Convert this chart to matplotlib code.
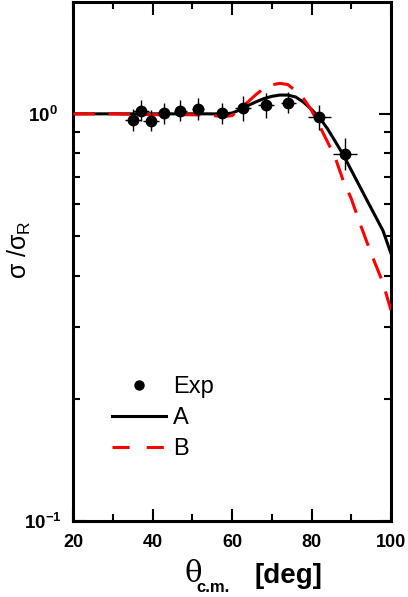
import numpy as np
import matplotlib.pyplot as plt
from matplotlib.lines import Line2D
from matplotlib.ticker import FixedLocator, NullFormatter

plt.rcParams['font.family'] = ['Liberation Sans', 'DejaVu Sans']
plt.rcParams['mathtext.fontset'] = 'custom'
plt.rcParams['mathtext.rm'] = 'Liberation Sans'
plt.rcParams['mathtext.bf'] = 'Liberation Sans:bold'

# experimental points
exp_theta = [35.1, 37.0, 39.5, 42.8, 46.9, 51.4, 57.4, 62.8, 68.5, 74.2, 82.0, 88.5]
exp_ratio = [0.967, 1.019, 0.963, 1.004, 1.019, 1.029, 1.004, 1.035, 1.050, 1.066, 0.982, 0.799]
exp_xerr = [2.0, 2.0, 2.0, 1.6, 1.6, 1.6, 2.0, 2.0, 2.0, 2.0, 2.8, 3.0]
exp_yfrac = [0.06, 0.06, 0.06, 0.06, 0.06, 0.06, 0.06, 0.07, 0.07, 0.06, 0.07, 0.09]

# model curves
theta_calc = [20, 30, 40, 50, 55, 58, 60, 62, 64, 66, 68, 70, 72, 74, 76, 78,
              80, 82, 84, 86, 88, 90, 92, 94, 96, 98, 100]
ratio_A = [1.0, 1.0, 1.0, 1.0, 1.0, 0.998, 1.005, 1.023, 1.048, 1.07, 1.09, 1.104,
           1.112, 1.112, 1.10, 1.068, 1.025, 0.98, 0.92, 0.855, 0.793, 0.728,
           0.668, 0.613, 0.563, 0.517, 0.455]
ratio_B = [1.0, 1.0, 0.995, 0.995, 0.99, 0.985, 0.99, 1.03, 1.07, 1.115, 1.155,
           1.178, 1.188, 1.18, 1.14, 1.09, 1.02, 0.935, 0.855, 0.78, 0.685, 0.62,
           0.545, 0.483, 0.43, 0.385, 0.33]

fig = plt.figure(figsize=(4.08, 5.97), dpi=100)
ax = fig.add_axes([0.180, 0.127, 0.778, 0.870])

ax.plot(theta_calc, ratio_A, color='black', lw=2.2, zorder=3)
ax.plot(theta_calc, ratio_B, color='red', lw=2.2, dashes=(7, 4.5), zorder=4)
yerr = [r * f for r, f in zip(exp_ratio, exp_yfrac)]
ax.errorbar(exp_theta, exp_ratio, xerr=exp_xerr, yerr=yerr, fmt='o', color='black',
            ms=7.5, elinewidth=1.0, capsize=0, zorder=5)

ax.set_yscale('log')
ax.set_xlim(20, 100)
ax.set_ylim(0.1, 1.884)

ax.xaxis.set_major_locator(FixedLocator([20, 40, 60, 80, 100]))
ax.xaxis.set_minor_locator(FixedLocator([30, 50, 70, 90]))
ax.yaxis.set_major_locator(FixedLocator([0.1, 1.0]))
ax.yaxis.set_minor_locator(FixedLocator([0.2, 0.3, 0.4, 0.5, 0.6, 0.7, 0.8, 0.9]))
ax.yaxis.set_minor_formatter(NullFormatter())
ax.set_xticklabels(['20', '40', '60', '80', '100'], fontsize=13, fontweight='bold')
ax.set_yticklabels([r'$\mathbf{10^{-1}}$', r'$\mathbf{10^{0}}$'], fontsize=13.5)
for lab in ax.get_yticklabels():
    lab.set_horizontalalignment('center')

ax.tick_params(which='both', direction='in', top=True, right=True, width=1.5)
ax.tick_params(which='major', length=9)
ax.tick_params(which='minor', length=5)
ax.tick_params(axis='x', pad=9)
ax.tick_params(axis='y', pad=22)
for sp in ax.spines.values():
    sp.set_linewidth(2.2)

ax.set_ylabel(r'σ /σ$_\mathregular{R}$', fontsize=18)
ax.yaxis.set_label_coords(-0.128, 0.522)

fig.text(193.5 / 408, 1 - 574 / 597, 'θ', fontsize=21, family='DejaVu Serif',
         ha='center', va='center')
fig.text(213 / 408, 1 - 588 / 597, 'c.m.', fontsize=12, fontweight='bold',
         ha='center', va='center')
fig.text(288 / 408, 1 - 576 / 597, '[deg]', fontsize=20, fontweight='bold',
         ha='center', va='center')

handles = [Line2D([], [], ls='none', marker='o', color='black', ms=6.5),
           Line2D([], [], color='black', lw=2.2),
           Line2D([], [], color='red', lw=2.2, dashes=(5.6, 5.6))]
ax.legend(handles, ['Exp', 'A', 'B'], loc='upper left', bbox_to_anchor=(0.12, 0.279),
          frameon=False, fontsize=17, borderpad=0, borderaxespad=0,
          handlelength=2.3, handletextpad=0.3, labelspacing=0.38)

fig.savefig('out.png', dpi=100)
